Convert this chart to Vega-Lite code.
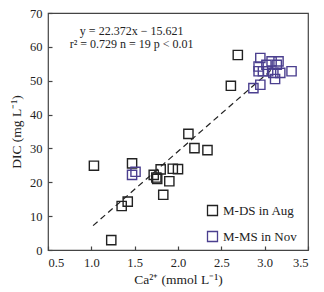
{
  "$schema": "https://vega.github.io/schema/vega-lite/v6.json",
  "width": 260,
  "height": 237,
  "autosize": {"type": "none"},
  "padding": {"left": 48, "top": 13, "right": 16, "bottom": 42},
  "config": {
    "font": "Liberation Serif",
    "view": {"stroke": "#444", "strokeWidth": 1.2}
  },
  "datasets": {
    "pts": [
      {"ca": 1.03, "dic": 24.9, "group": "M-DS in Aug"},
      {"ca": 1.23, "dic": 2.9, "group": "M-DS in Aug"},
      {"ca": 1.35, "dic": 13.0, "group": "M-DS in Aug"},
      {"ca": 1.42, "dic": 14.3, "group": "M-DS in Aug"},
      {"ca": 1.47, "dic": 25.6, "group": "M-DS in Aug"},
      {"ca": 1.72, "dic": 22.2, "group": "M-DS in Aug"},
      {"ca": 1.75, "dic": 21.4, "group": "M-DS in Aug"},
      {"ca": 1.76, "dic": 21.0, "group": "M-DS in Aug"},
      {"ca": 1.80, "dic": 23.8, "group": "M-DS in Aug"},
      {"ca": 1.83, "dic": 16.3, "group": "M-DS in Aug"},
      {"ca": 1.90, "dic": 20.3, "group": "M-DS in Aug"},
      {"ca": 1.94, "dic": 24.0, "group": "M-DS in Aug"},
      {"ca": 2.00, "dic": 23.9, "group": "M-DS in Aug"},
      {"ca": 2.12, "dic": 34.3, "group": "M-DS in Aug"},
      {"ca": 2.19, "dic": 30.1, "group": "M-DS in Aug"},
      {"ca": 2.34, "dic": 29.5, "group": "M-DS in Aug"},
      {"ca": 2.61, "dic": 48.5, "group": "M-DS in Aug"},
      {"ca": 2.69, "dic": 57.6, "group": "M-DS in Aug"},
      {"ca": 1.47, "dic": 22.2, "group": "M-MS in Nov"},
      {"ca": 1.51, "dic": 23.1, "group": "M-MS in Nov"},
      {"ca": 2.87, "dic": 47.8, "group": "M-MS in Nov"},
      {"ca": 2.95, "dic": 48.8, "group": "M-MS in Nov"},
      {"ca": 2.95, "dic": 56.7, "group": "M-MS in Nov"},
      {"ca": 2.93, "dic": 54.2, "group": "M-MS in Nov"},
      {"ca": 2.93, "dic": 52.8, "group": "M-MS in Nov"},
      {"ca": 2.98, "dic": 52.8, "group": "M-MS in Nov"},
      {"ca": 3.02, "dic": 54.7, "group": "M-MS in Nov"},
      {"ca": 3.04, "dic": 52.8, "group": "M-MS in Nov"},
      {"ca": 3.08, "dic": 55.7, "group": "M-MS in Nov"},
      {"ca": 3.10, "dic": 52.3, "group": "M-MS in Nov"},
      {"ca": 3.12, "dic": 50.5, "group": "M-MS in Nov"},
      {"ca": 3.14, "dic": 54.7, "group": "M-MS in Nov"},
      {"ca": 3.16, "dic": 55.7, "group": "M-MS in Nov"},
      {"ca": 3.18, "dic": 52.3, "group": "M-MS in Nov"},
      {"ca": 3.31, "dic": 52.8, "group": "M-MS in Nov"}
    ],
    "fit": [
      {"ca": 1.02, "dic": 7.2},
      {"ca": 3.1, "dic": 53.7}
    ],
    "ann": [
      {"ca": 1.465, "dic": 64.6, "label": "y = 22.372x − 15.621"},
      {"ca": 1.465, "dic": 60.7, "label": "r² = 0.729 n = 19 p < 0.01"}
    ]
  },
  "encoding": {
    "x": {"field": "ca", "type": "quantitative", "scale": {"domain": [0.5, 3.5], "nice": false, "zero": false},
      "axis": {"values": [0.5, 1, 1.5, 2, 2.5, 3, 3.5], "format": ".1f", "title": "Ca²⁺ (mmol L⁻¹)", "grid": false, "domain": false,
        "labelFont": "Liberation Serif", "titleFont": "Liberation Serif", "labelFontSize": 12.5, "titleFontSize": 13.5, "titleFontWeight": "normal",
        "labelColor": "#222", "titleColor": "#222", "tickColor": "#444", "tickSize": -4, "tickWidth": 1.2, "labelPadding": 10, "titlePadding": 4}},
    "y": {"field": "dic", "type": "quantitative", "scale": {"domain": [0, 70], "nice": false},
      "axis": {"values": [0, 10, 20, 30, 40, 50, 60, 70], "title": "DIC (mg L⁻¹)", "grid": false, "domain": false,
        "labelFont": "Liberation Serif", "titleFont": "Liberation Serif", "labelFontSize": 12.5, "titleFontSize": 13.5, "titleFontWeight": "normal",
        "labelColor": "#222", "titleColor": "#222", "tickColor": "#444", "tickSize": -4, "tickWidth": 1.2, "labelPadding": 10, "titlePadding": 6}}
  },
  "layer": [
    {
      "data": {"name": "fit"},
      "mark": {"type": "line", "color": "#222", "strokeDash": [6, 4], "strokeWidth": 1.2}
    },
    {
      "data": {"name": "pts"},
      "mark": {"type": "point", "shape": "square", "filled": false, "size": 85, "strokeWidth": 1.4, "opacity": 1},
      "encoding": {
        "color": {"field": "group", "type": "nominal", "scale": {"domain": ["M-DS in Aug", "M-MS in Nov"], "range": ["#222222", "#4b3f8f"]}, "legend": {"title": null, "orient": "none", "legendX": 158, "legendY": 191, "symbolType": "square", "symbolSize": 100, "symbolStrokeWidth": 1.3, "labelFont": "Liberation Serif", "labelFontSize": 13, "labelColor": "#222", "rowPadding": 9, "labelOffset": 4}}
      }
    },
    {
      "data": {"name": "ann"},
      "mark": {"type": "text", "font": "Liberation Serif", "fontSize": 12, "color": "#222", "align": "center", "baseline": "middle"},
      "encoding": {
        "text": {"field": "label"}
      }
    }
  ]
}
